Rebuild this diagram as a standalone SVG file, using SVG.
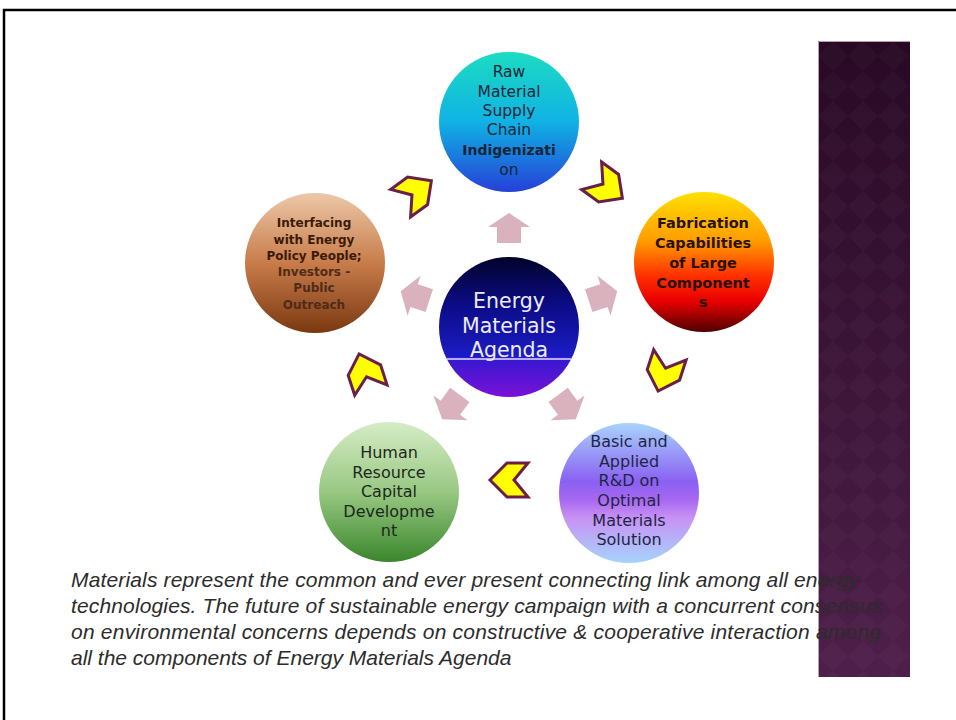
<svg xmlns="http://www.w3.org/2000/svg" width="956" height="720" viewBox="0 0 956 720">
  <defs>
    <linearGradient id="gTop" x1="0" y1="0" x2="0" y2="1">
      <stop offset="0" stop-color="#1cdcc2"/>
      <stop offset="0.5" stop-color="#10b2e4"/>
      <stop offset="1" stop-color="#2640d8"/>
    </linearGradient>
    <linearGradient id="gRight" x1="0" y1="0" x2="0" y2="1">
      <stop offset="0" stop-color="#ffe000"/>
      <stop offset="0.35" stop-color="#ff9c00"/>
      <stop offset="0.6" stop-color="#ff3000"/>
      <stop offset="0.78" stop-color="#e80000"/>
      <stop offset="1" stop-color="#500000"/>
    </linearGradient>
    <linearGradient id="gBR" x1="0" y1="0" x2="0" y2="1">
      <stop offset="0" stop-color="#a8d4fc"/>
      <stop offset="0.42" stop-color="#8a60f2"/>
      <stop offset="0.55" stop-color="#a868f0"/>
      <stop offset="0.68" stop-color="#c892f4"/>
      <stop offset="1" stop-color="#a4d4fc"/>
    </linearGradient>
    <linearGradient id="gBL" x1="0" y1="0" x2="0" y2="1">
      <stop offset="0" stop-color="#d6ecc6"/>
      <stop offset="0.5" stop-color="#98c882"/>
      <stop offset="1" stop-color="#3a862c"/>
    </linearGradient>
    <linearGradient id="gLeft" x1="0" y1="0" x2="0" y2="1">
      <stop offset="0" stop-color="#ecc8a8"/>
      <stop offset="0.5" stop-color="#c87c4a"/>
      <stop offset="1" stop-color="#7a3810"/>
    </linearGradient>
    <linearGradient id="gCenter" x1="0" y1="0" x2="0" y2="1">
      <stop offset="0" stop-color="#02022a"/>
      <stop offset="0.35" stop-color="#0c0c88"/>
      <stop offset="0.71" stop-color="#1c1cc6"/>
      <stop offset="0.72" stop-color="#3418d0"/>
      <stop offset="1" stop-color="#7a12d6"/>
    </linearGradient>
    <linearGradient id="gBand" x1="0" y1="0" x2="0" y2="1">
      <stop offset="0" stop-color="#280924"/>
      <stop offset="1" stop-color="#4e1f4a"/>
    </linearGradient>
    <pattern id="diamonds" width="30" height="30" patternUnits="userSpaceOnUse" x="818" y="41">
      <path d="M15,0 L30,15 L15,30 L0,15 Z" fill="#ffffff" fill-opacity="0.025"/>
    </pattern>
    <path id="chevron" d="M-19,-17 L2,-17 L19,0 L2,17 L-19,17 L-5,0 Z"/>
    <path id="blockArrow" d="M-15,-12 L1,-12 L1,-21 L15,0 L1,21 L1,12 L-15,12 Z"/>
  </defs>
  <style>
    .cyc { fill: #ffff00; stroke: #6a1f4a; stroke-width: 3; stroke-linejoin: miter; }
    .spoke { fill: #d9b2bd; }
    .lbl { font-family: "DejaVu Sans", Verdana, sans-serif; text-anchor: middle; }
    .para { font-family: "Liberation Sans", Arial, sans-serif; font-style: italic; font-size: 21px; fill: #2c2c2c; white-space: pre; }
  </style>

  <rect width="956" height="720" fill="#ffffff"/>

  <!-- slide frame -->
  <path d="M4,720 V10 H956" fill="none" stroke="#000000" stroke-width="2.5"/>

  <!-- decorative band on the right -->
  <g id="band">
    <rect x="818" y="41" width="92" height="636" fill="url(#gBand)"/>
    <rect x="818" y="41" width="92" height="636" fill="url(#diamonds)"/>
    <path d="M818.5,677 V41.5 H910" fill="none" stroke="#b8a0b4" stroke-width="1"/>
  </g>

  <!-- connectors: outward spokes and the clockwise cycle arrows -->
  <g id="connectors">
    <use href="#blockArrow" class="spoke" transform="translate(509,228) rotate(-90)"/>
    <use href="#blockArrow" class="spoke" transform="translate(603,296) rotate(-18)"/>
    <use href="#blockArrow" class="spoke" transform="translate(567,407) rotate(54)"/>
    <use href="#blockArrow" class="spoke" transform="translate(451,407) rotate(126)"/>
    <use href="#blockArrow" class="spoke" transform="translate(415,296) rotate(198)"/>

    <use href="#chevron" class="cyc" transform="translate(416,192) rotate(-36)"/>
    <use href="#chevron" class="cyc" transform="translate(607,187) rotate(36)"/>
    <use href="#chevron" class="cyc" transform="translate(664,373) rotate(108)"/>
    <use href="#chevron" class="cyc" transform="translate(509,480) rotate(180)"/>
    <use href="#chevron" class="cyc" transform="translate(365,372) rotate(252)"/>
  </g>

  <g id="node-center">
    <circle cx="509" cy="327" r="70" fill="url(#gCenter)"/>
    <line x1="447" y1="359" x2="571" y2="359" stroke="#e0e0ff" stroke-width="1.3"/>
    <g class="lbl" font-size="20.5" fill="#ececf6">
      <text x="509" y="308">Energy</text>
      <text x="509" y="333">Materials</text>
      <text x="509" y="357">Agenda</text>
    </g>
  </g>

  <g id="node-raw-material">
    <circle cx="509" cy="122" r="70" fill="url(#gTop)"/>
    <g class="lbl" font-size="15.5" fill="#182636">
      <text x="509" y="77">Raw</text>
      <text x="509" y="97">Material</text>
      <text x="509" y="116">Supply</text>
      <text x="509" y="135">Chain</text>
      <text x="509" y="155" font-weight="bold" font-size="14">Indigenizati</text>
      <text x="509" y="175">on</text>
    </g>
  </g>

  <g id="node-fabrication">
    <circle cx="704" cy="262" r="70" fill="url(#gRight)"/>
    <g class="lbl" font-size="14.5" font-weight="bold" fill="#2a1200">
      <text x="703" y="228">Fabrication</text>
      <text x="703" y="248">Capabilities</text>
      <text x="703" y="268">of Large</text>
      <text x="703" y="288">Component</text>
      <text x="703" y="307">s</text>
    </g>
  </g>

  <g id="node-rnd">
    <circle cx="629" cy="493" r="70" fill="url(#gBR)"/>
    <g class="lbl" font-size="16" fill="#1c2644">
      <text x="629" y="447">Basic and</text>
      <text x="629" y="467">Applied</text>
      <text x="629" y="486">R&amp;D on</text>
      <text x="629" y="506">Optimal</text>
      <text x="629" y="526">Materials</text>
      <text x="629" y="545">Solution</text>
    </g>
  </g>

  <g id="node-human-resource">
    <circle cx="389" cy="492" r="70" fill="url(#gBL)"/>
    <g class="lbl" font-size="16" fill="#1c281c">
      <text x="389" y="458">Human</text>
      <text x="389" y="478">Resource</text>
      <text x="389" y="497">Capital</text>
      <text x="389" y="517">Developme</text>
      <text x="389" y="536">nt</text>
    </g>
  </g>

  <g id="node-interfacing">
    <circle cx="315" cy="263" r="70" fill="url(#gLeft)"/>
    <g class="lbl" font-size="12" font-weight="bold">
      <text x="314" y="227" fill="#3a1a08">Interfacing</text>
      <text x="314" y="244" fill="#3a1a08">with Energy</text>
      <text x="314" y="260" fill="#3a1a08">Policy People;</text>
      <text x="314" y="276" fill="#4e2c18">Investors -</text>
      <text x="314" y="292" fill="#4e2c18">Public</text>
      <text x="314" y="309" fill="#4e2c18">Outreach</text>
    </g>
  </g>

  <!-- caption -->
  <g id="caption" class="para" xml:space="preserve">
    <text x="71" y="587" textLength="788" lengthAdjust="spacing">Materials represent the common and  ever present connecting link among all energy</text>
    <text x="71" y="613" textLength="811" lengthAdjust="spacing">technologies.  The future of sustainable energy campaign with a concurrent consensus</text>
    <text x="71" y="639" textLength="810" lengthAdjust="spacing">on environmental concerns depends  on constructive  &amp; cooperative interaction among</text>
    <text x="71" y="665">all the components of Energy Materials Agenda</text>
  </g>
</svg>
